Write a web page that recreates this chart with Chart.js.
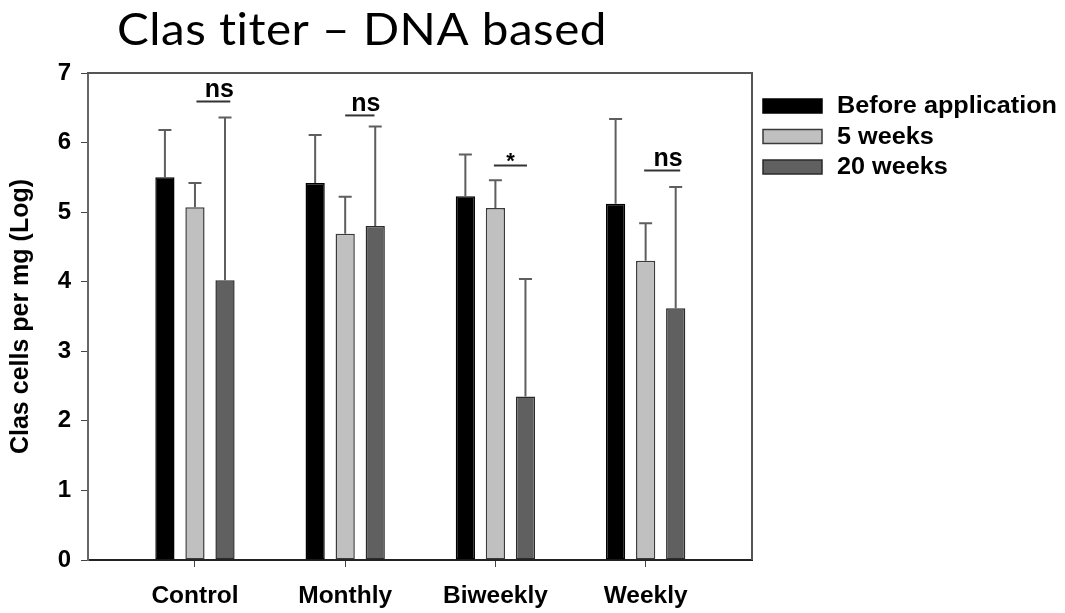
<!DOCTYPE html>
<html><head><meta charset="utf-8">
<script src="https://cdn.jsdelivr.net/npm/chart.js@4/dist/chart.umd.min.js"></script>
<style>html,body{margin:0;padding:0;background:#fff}#wrap{width:1065px;height:613px;position:relative}</style>
</head><body><div id="wrap"><canvas id="c" width="1065" height="613"></canvas></div>
<script>
const chartTitle = 'Clas titer \u2013 DNA based';
const yAxisTitle = 'Clas cells per mg (Log)';
const categories = ['Control', 'Monthly', 'Biweekly', 'Weekly'];
const seriesNames = ['Before application', '5 weeks', '20 weeks'];
const beforeApp = [5.50, 5.42, 5.23, 5.12];
const weeks5 = [5.07, 4.69, 5.06, 4.30];
const weeks20 = [4.02, 4.80, 2.35, 3.62];
// upper ends of the error bars
const beforeAppErr = [6.18, 6.11, 5.83, 6.34];
const weeks5Err = [5.42, 5.22, 5.46, 4.84];
const weeks20Err = [6.36, 6.23, 4.04, 5.36];
const yTicks = [0, 1, 2, 3, 4, 5, 6, 7];
// significance annotations (span in category units relative to each group)
const sigLabels = ['ns', 'ns', '*', 'ns'];
const sigLevel = [6.59, 6.39, 5.67, 5.60];
const sigFrom = [0.01, 0.0, -0.01, -0.01];
const sigTo = [0.235, 0.195, 0.21, 0.23];

const seriesValues = [beforeApp, weeks5, weeks20];
const seriesErr = [beforeAppErr, weeks5Err, weeks20Err];
const fills = ['#000000', '#c0c0c0', '#606060'];
const strokes = ['#000000', '#3a3a3a', '#2a2a2a'];
const boldFont = 'Liberation Sans, Arial, sans-serif';

const datasets = seriesValues.map((vals, s) => ({
  label: seriesNames[s],
  data: vals.map((v, i) => ({ x: i, y: v })),
  backgroundColor: fills[s],
  borderColor: strokes[s],
  borderWidth: 1.5,
  borderSkipped: false,
  categoryPercentage: 0.6,
  barPercentage: 0.64
}));

const decorPlugin = {
  id: 'decor',
  beforeDraw(chart) {
    const ctx = chart.ctx;
    ctx.save();
    ctx.fillStyle = '#fff';
    ctx.fillRect(0, 0, chart.width, chart.height);
    ctx.restore();
  },
  afterDatasetsDraw(chart) {
    const ctx = chart.ctx;
    const xs = chart.scales.x, ys = chart.scales.y;
    const a = chart.chartArea;
    ctx.save();
    // error bars
    ctx.strokeStyle = '#5e5e5e';
    ctx.lineWidth = 2;
    seriesErr.forEach((errs, s) => {
      const meta = chart.getDatasetMeta(s);
      meta.data.forEach((bar, i) => {
        const yt = ys.getPixelForValue(errs[i]);
        ctx.beginPath();
        ctx.moveTo(bar.x, bar.y);
        ctx.lineTo(bar.x, yt);
        ctx.moveTo(bar.x - 6.5, yt);
        ctx.lineTo(bar.x + 6.5, yt);
        ctx.stroke();
      });
    });
    // frame top and right
    ctx.strokeStyle = '#555';
    ctx.lineWidth = 2;
    ctx.beginPath();
    ctx.moveTo(a.left - 1, a.top);
    ctx.lineTo(a.right, a.top);
    ctx.lineTo(a.right, a.bottom);
    ctx.stroke();
    // significance marks
    sigLabels.forEach((lab, k) => {
      const x1 = xs.getPixelForValue(k + sigFrom[k]);
      const x2 = xs.getPixelForValue(k + sigTo[k]);
      const y = ys.getPixelForValue(sigLevel[k]);
      ctx.strokeStyle = '#333';
      ctx.lineWidth = 2;
      ctx.beginPath();
      ctx.moveTo(x1, y);
      ctx.lineTo(x2, y);
      ctx.stroke();
      ctx.fillStyle = '#000';
      ctx.textAlign = 'center';
      ctx.textBaseline = 'alphabetic';
      if (lab === '*') {
        ctx.font = 'bold 22px ' + boldFont;
        ctx.fillText(lab, (x1 + x2) / 2, y + 2);
      } else {
        ctx.font = 'bold 25px ' + boldFont;
        ctx.fillText(lab, (x1 + x2) / 2 + 6, y - 4.5);
      }
    });
    ctx.restore();
  },
  afterDraw(chart) {
    const ctx = chart.ctx;
    ctx.save();
    // title
    ctx.fillStyle = '#000';
    ctx.textAlign = 'left';
    ctx.textBaseline = 'alphabetic';
    ctx.font = '45px Lato, "Open Sans", sans-serif';
    if ('letterSpacing' in ctx) ctx.letterSpacing = '0.5px';
    const tw = ctx.measureText(chartTitle).width;
    ctx.translate(117, 45);
    ctx.scale(490 / tw, 1);
    ctx.fillText(chartTitle, 0, 0);
    ctx.restore();
    // legend
    ctx.save();
    const a = chart.chartArea;
    ctx.font = 'bold 23px ' + boldFont;
    const lw = ctx.measureText(seriesNames[0]).width;
    const sx = 220 / lw;
    chart.data.datasets.forEach((ds, s) => {
      const cy = 106 + s * 30.5;
      ctx.fillStyle = ds.backgroundColor;
      ctx.fillRect(a.right + 11, cy - 7, 59, 14);
      ctx.strokeStyle = ds.borderColor;
      ctx.lineWidth = 1.5;
      ctx.strokeRect(a.right + 11, cy - 7, 59, 14);
      ctx.fillStyle = '#000';
      ctx.textBaseline = 'middle';
      ctx.textAlign = 'left';
      ctx.save();
      ctx.translate(a.right + 85, cy + 1);
      ctx.scale(sx, 1);
      ctx.fillText(ds.label, 0, 0);
      ctx.restore();
    });
    ctx.restore();
  }
};

new Chart(document.getElementById('c'), {
  type: 'bar',
  data: { datasets },
  options: {
    responsive: false,
    animation: false,
    layout: { padding: { top: 73, right: 313, bottom: 0, left: 0 } },
    plugins: { legend: { display: false }, title: { display: false }, tooltip: { enabled: false } },
    scales: {
      x: {
        type: 'linear',
        min: -0.712,
        max: 3.708,
        offset: false,
        afterBuildTicks: (s) => { s.ticks = categories.map((c, i) => ({ value: i })); },
        afterFit: (s) => { s.height = 53; },
        ticks: {
          callback: (v) => categories[v],
          font: { family: boldFont, weight: 'bold', size: 24.5 },
          color: '#000',
          padding: 15,
          autoSkip: false,
          maxRotation: 0
        },
        grid: { offset: false, drawOnChartArea: false, drawTicks: true, tickLength: 7, color: '#444', lineWidth: 1 },
        border: { color: '#222', width: 2 }
      },
      y: {
        min: 0,
        max: 7,
        afterBuildTicks: (s) => { s.ticks = yTicks.map(v => ({ value: v })); },
        afterFit: (s) => { s.width = 88; },
        ticks: {
          font: { family: boldFont, weight: 'bold', size: 24 },
          color: '#000',
          padding: 10
        },
        grid: { drawOnChartArea: false, drawTicks: true, tickLength: 7, color: '#444', lineWidth: 1 },
        border: { color: '#666', width: 2 },
        title: {
          display: true,
          text: yAxisTitle,
          font: { family: boldFont, weight: 'bold', size: 25 },
          color: '#000',
          padding: { top: 6, bottom: 0 }
        }
      }
    }
  },
  plugins: [decorPlugin]
});
</script>
</body></html>
